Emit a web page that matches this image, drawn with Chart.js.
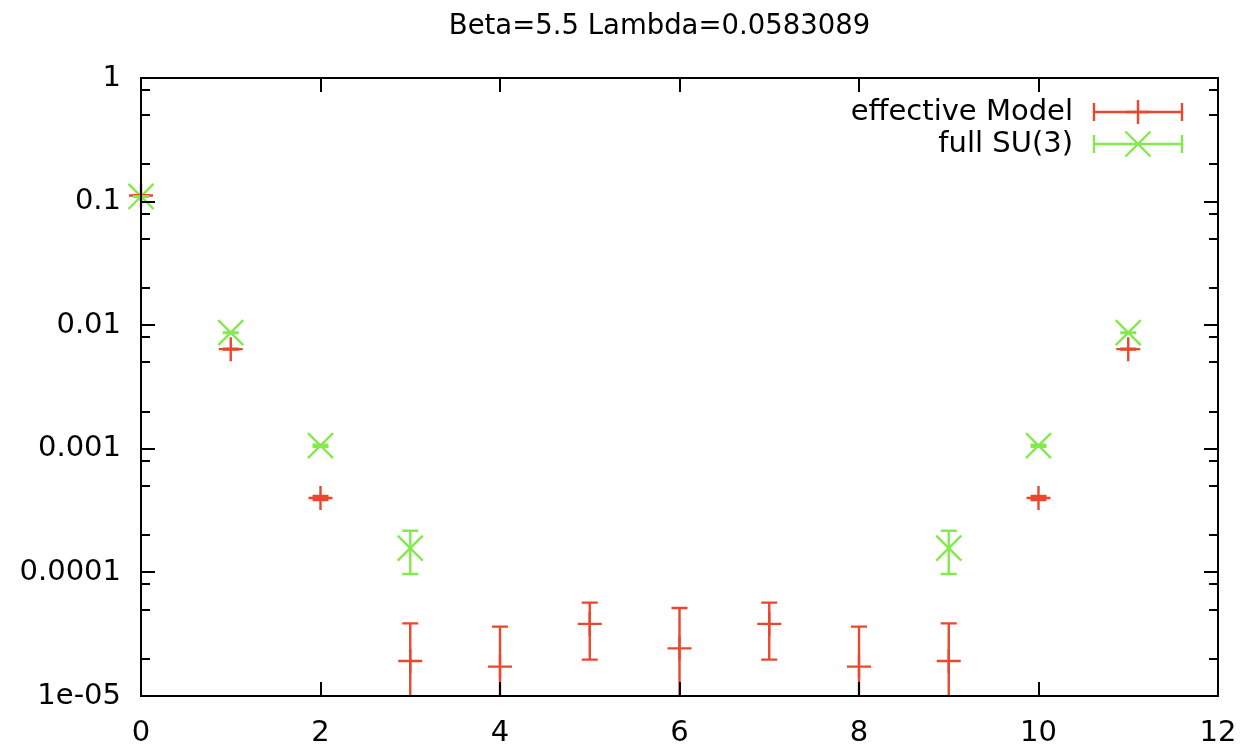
<!DOCTYPE html>
<html>
<head>
<meta charset="utf-8">
<title>Beta=5.5 Lambda=0.0583089</title>
<script src="https://cdn.jsdelivr.net/npm/chart.js@4.4.1/dist/chart.umd.min.js"></script>
<style>
  html, body { margin: 0; padding: 0; background: #fff; }
  #wrap { width: 1242px; height: 745px; }
</style>
</head>
<body>
<div id="wrap"><canvas id="chart" width="1242" height="745"></canvas></div>
<script>
"use strict";

const TITLE = "Beta=5.5 Lambda=0.0583089";
const FONT = "'DejaVu Sans', sans-serif";

// Correlator vs. distance, effective model.
const EFF_LABEL = "effective Model";
const EFF_X = [0, 1, 2, 3, 4, 5, 6, 7, 8, 9, 10, 11];
const EFF_VALUES = [0.112, 0.0064, 0.0004, 1.92e-5, 1.73e-5, 3.83e-5, 2.43e-5, 3.83e-5, 1.73e-5, 1.92e-5, 0.0004, 0.0064];
const EFF_ERRORS = [0.0005, 0.00005, 1.5e-5, 1.95e-5, 1.91e-5, 1.86e-5, 2.72e-5, 1.86e-5, 1.91e-5, 1.95e-5, 1.5e-5, 0.00005];

// Same correlator from the full SU(3) simulation.
const SU3_LABEL = "full SU(3)";
const SU3_X = [0, 1, 2, 3, 9, 10, 11];
const SU3_VALUES = [0.110, 0.0087, 0.00106, 1.57e-4, 1.57e-4, 0.00106, 0.0087];
const SU3_ERRORS = [0.0005, 0.00005, 2e-5, 6e-5, 6e-5, 2e-5, 0.00005];

// Axis ticks (gnuplot style: decades labelled, 2/5/8 minors).
const X_TICKS = [0, 2, 4, 6, 8, 10, 12];
const Y_MAJOR = [1e-5, 1e-4, 1e-3, 1e-2, 1e-1, 1];
const Y_LABELS = ["1e-05", "0.0001", "0.001", "0.01", "0.1", "1"];
const Y_MINOR_STEPS = [2, 5, 8];

const RED = "#e9482f";
const GREEN = "#84e94c";
const LW = 2.4;

function toPoints(xs, ys) {
  return xs.map((x, i) => ({ x, y: ys[i] }));
}

function yLabel(v) {
  const i = Y_MAJOR.findIndex((m) => Math.abs(Math.log10(m) - Math.log10(v)) < 1e-6);
  return i < 0 ? "" : Y_LABELS[i];
}

function allYTicks() {
  const out = [];
  for (let i = 0; i < Y_MAJOR.length; i++) {
    out.push({ value: Y_MAJOR[i], major: true });
    if (i < Y_MAJOR.length - 1) {
      for (const s of Y_MINOR_STEPS) out.push({ value: Y_MAJOR[i] * s, major: false });
    }
  }
  return out;
}

// Vertical error bars with small caps, clipped to the plot frame.
const errorBars = {
  id: "errorBars",
  afterDatasetsDraw(chart) {
    const { ctx, chartArea } = chart;
    const y = chart.scales.y;
    chart.data.datasets.forEach((ds, i) => {
      const meta = chart.getDatasetMeta(i);
      ctx.save();
      ctx.strokeStyle = ds.borderColor;
      ctx.lineWidth = LW;
      meta.data.forEach((pt, j) => {
        const v = ds.data[j].y;
        const e = ds.errors[j];
        const top = Math.max(y.getPixelForValue(v + e), chartArea.top);
        const low = v - e > 0 ? y.getPixelForValue(v - e) : chartArea.bottom;
        const bot = Math.min(low, chartArea.bottom);
        ctx.beginPath();
        ctx.moveTo(pt.x, top);
        ctx.lineTo(pt.x, bot);
        if (top > chartArea.top) { ctx.moveTo(pt.x - 8, top); ctx.lineTo(pt.x + 8, top); }
        if (bot < chartArea.bottom) { ctx.moveTo(pt.x - 8, bot); ctx.lineTo(pt.x + 8, bot); }
        ctx.stroke();
      });
      ctx.restore();
    });
  },
};

function drawMarker(ctx, style, x, y) {
  ctx.beginPath();
  if (style === "cross") {
    ctx.moveTo(x - 12, y); ctx.lineTo(x + 12, y);
    ctx.moveTo(x, y - 12); ctx.lineTo(x, y + 12);
  } else {
    ctx.moveTo(x - 12.5, y - 12.5); ctx.lineTo(x + 12.5, y + 12.5);
    ctx.moveTo(x - 12.5, y + 12.5); ctx.lineTo(x + 12.5, y - 12.5);
  }
  ctx.stroke();
}

// Title, border box, inward ticks mirrored on all sides, and the key.
const frame = {
  id: "frame",
  afterDraw(chart) {
    const { ctx, chartArea: a } = chart;
    const xs = chart.scales.x;
    const ys = chart.scales.y;
    ctx.save();
    ctx.fillStyle = "#000";
    ctx.font = "27.5px " + FONT;
    ctx.textAlign = "center";
    ctx.textBaseline = "middle";
    ctx.fillText(TITLE, (a.left + a.right) / 2 - 20, 27);

    ctx.strokeStyle = "#000";
    ctx.lineWidth = 2;
    ctx.strokeRect(a.left, a.top, a.right - a.left, a.bottom - a.top);
    ctx.beginPath();
    for (const t of allYTicks()) {
      const py = Math.round(ys.getPixelForValue(t.value));
      const len = t.major ? 14 : 9;
      ctx.moveTo(a.left, py); ctx.lineTo(a.left + len, py);
      ctx.moveTo(a.right, py); ctx.lineTo(a.right - len, py);
    }
    for (const v of X_TICKS) {
      const px = Math.round(xs.getPixelForValue(v));
      ctx.moveTo(px, a.bottom); ctx.lineTo(px, a.bottom - 14);
      ctx.moveTo(px, a.top); ctx.lineTo(px, a.top + 14);
    }
    ctx.stroke();

    // key, top right
    ctx.font = "29px " + FONT;
    ctx.textAlign = "right";
    chart.data.datasets.forEach((ds, i) => {
      const cy = 112 + i * 32;
      ctx.fillStyle = "#000";
      ctx.fillText(ds.label, 1073, cy);
      ctx.strokeStyle = ds.borderColor;
      ctx.lineWidth = LW;
      ctx.beginPath();
      ctx.moveTo(1094, cy); ctx.lineTo(1182, cy);
      ctx.moveTo(1094, cy - 9); ctx.lineTo(1094, cy + 9);
      ctx.moveTo(1182, cy - 9); ctx.lineTo(1182, cy + 9);
      ctx.stroke();
      drawMarker(ctx, ds.pointStyle, 1138, cy);
    });
    ctx.restore();
  },
};

new Chart(document.getElementById("chart"), {
  type: "scatter",
  data: {
    datasets: [
      {
        label: EFF_LABEL,
        data: toPoints(EFF_X, EFF_VALUES),
        errors: EFF_ERRORS,
        borderColor: RED,
        backgroundColor: RED,
        pointStyle: "cross",
        pointRadius: 12,
        pointHoverRadius: 12,
        pointBorderWidth: LW,
        clip: false,
      },
      {
        label: SU3_LABEL,
        data: toPoints(SU3_X, SU3_VALUES),
        errors: SU3_ERRORS,
        borderColor: GREEN,
        backgroundColor: GREEN,
        pointStyle: "crossRot",
        pointRadius: 17.7,
        pointHoverRadius: 17.7,
        pointBorderWidth: LW,
        clip: false,
      },
    ],
  },
  options: {
    responsive: false,
    animation: false,
    events: [],
    layout: { padding: { left: 0, right: 24, top: 78, bottom: 0 } },
    plugins: {
      legend: { display: false },
      tooltip: { enabled: false },
    },
    scales: {
      x: {
        type: "linear",
        min: 0,
        max: 12,
        grid: { display: false, drawTicks: false },
        border: { display: false },
        afterBuildTicks: (s) => { s.ticks = X_TICKS.map((v) => ({ value: v })); },
        afterFit: (s) => { s.height = 49; s.paddingLeft = 0; s.paddingRight = 0; },
        ticks: {
          color: "#000",
          font: { family: FONT, size: 29 },
          padding: 20,
          maxRotation: 0,
          autoSkip: false,
        },
      },
      y: {
        type: "logarithmic",
        min: 1e-5,
        max: 1,
        grid: { display: false, drawTicks: false },
        border: { display: false },
        afterBuildTicks: (s) => { s.ticks = allYTicks().map((t) => ({ value: t.value })); },
        afterFit: (s) => { s.width = 141; s.paddingTop = 0; s.paddingBottom = 0; },
        ticks: {
          color: "#000",
          font: { family: FONT, size: 29 },
          padding: 20,
          autoSkip: false,
          callback: (v) => yLabel(v),
        },
      },
    },
  },
  plugins: [errorBars, frame],
});
</script>
</body>
</html>
